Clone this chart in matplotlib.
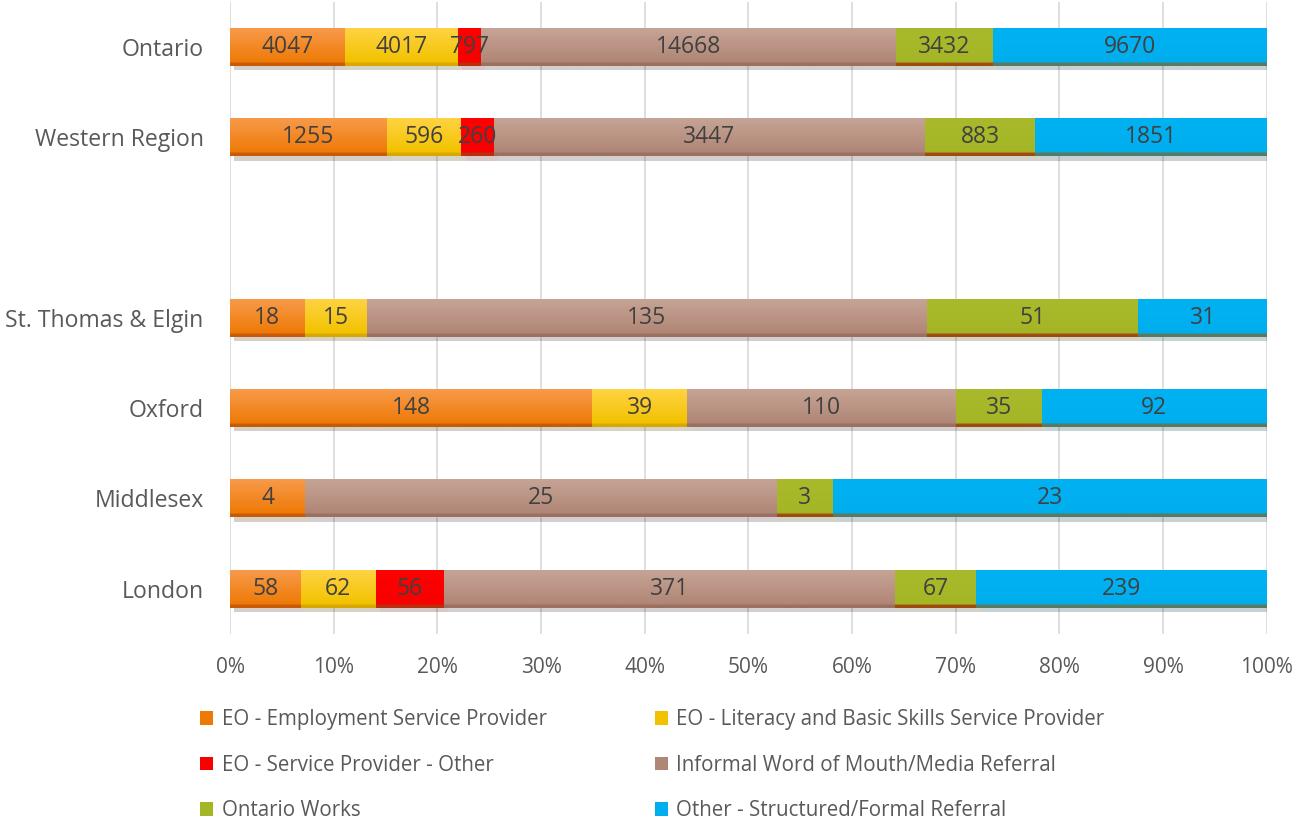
import numpy as np
import matplotlib.pyplot as plt
from matplotlib.colors import LinearSegmentedColormap
from matplotlib.patches import Patch
import matplotlib.patheffects as pe

plt.rcParams['font.family'] = ['Open Sans', 'DejaVu Sans']

# categories bottom -> top (blank row is the gap between regions and areas)
regions = ['London', 'Middlesex', 'Oxford', 'St. Thomas & Elgin', '', 'Western Region', 'Ontario']

series_names = ['EO - Employment Service Provider',
                'EO - Literacy and Basic Skills Service Provider',
                'EO - Service Provider - Other',
                'Informal Word of Mouth/Media Referral',
                'Ontario Works',
                'Other - Structured/Formal Referral']

emp_provider = [58, 4, 148, 18, 0, 1255, 4047]
literacy = [62, 0, 39, 15, 0, 596, 4017]
sp_other = [56, 0, 0, 0, 0, 260, 797]
word_of_mouth = [371, 25, 110, 135, 0, 3447, 14668]
ontario_works = [67, 3, 35, 51, 0, 883, 3432]
other_formal = [239, 23, 92, 31, 0, 1851, 9670]

# (top colour, bottom colour, bottom edge strip) for each series
grads = [('#F89A4A', '#EE7A06', '#C85A08'),
         ('#FFD342', '#F2C200', '#D8A800'),
         ('#FF0000', '#F80000', '#B83010'),
         ('#C6A495', '#B08676', '#9C7060'),
         ('#A9B92C', '#A4B625', '#A04A10'),
         ('#00B2F2', '#00AEEE', '#5A7A60')]

data = np.array([emp_provider, literacy, sp_other, word_of_mouth, ontario_works, other_formal], dtype=float)
totals = data.sum(axis=0)
totals[totals == 0] = 1
shares = data / totals * 100

fig = plt.figure(figsize=(12.96, 8.22), dpi=100)
ax = fig.add_axes([0.1775, 0.229, 0.8, 0.7685])

y = np.arange(len(regions))
left = np.zeros(len(regions))
grad = np.linspace(0, 1, 100).reshape(-1, 1)
for i, name in enumerate(series_names):
    bars = ax.barh(y, shares[i], left=left, height=0.42, color=grads[i][1], label=name,
                   edgecolor='none', zorder=3,
                   path_effects=[pe.SimplePatchShadow(offset=(3, -3), alpha=0.22, rho=0.3), pe.Normal()])
    cmap = LinearSegmentedColormap.from_list('g%d' % i, [(0, grads[i][0]), (0.9, grads[i][1]),
                                                         (0.93, grads[i][2]), (1, grads[i][2])])
    for b, v in zip(bars, data[i]):
        if v == 0:
            continue
        x0, y0, w, h = b.get_x(), b.get_y(), b.get_width(), b.get_height()
        im = ax.imshow(grad, extent=(x0, x0 + w, y0, y0 + h), cmap=cmap, aspect='auto',
                       origin='upper', zorder=4, interpolation='bilinear')
        im.set_clip_path(b)
        ax.text(x0 + w / 2, y0 + h / 2, '%d' % v, ha='center', va='center',
                fontsize=16.5, color='#404040', zorder=6)
    left += shares[i]

ax.set_xlim(0, 100)
ax.set_ylim(-0.5, len(regions) - 0.5)
ax.set_yticks(y)
ax.set_yticklabels(regions, fontsize=16.6, color='#595959')
ax.set_xticks(np.arange(0, 101, 10))
ax.set_xticklabels(['%d%%' % t for t in range(0, 101, 10)], fontsize=15, color='#595959')
ax.tick_params(length=0)
ax.tick_params(axis='x', pad=17)
ax.tick_params(axis='y', pad=19)
ax.grid(axis='x', color='#D9D9D9', linewidth=1.2, zorder=0)
for s in ax.spines.values():
    s.set_visible(False)

# legend fills row by row in the reference
order = [0, 2, 4, 1, 3, 5]
handles = [Patch(facecolor=grads[i][1], label=series_names[i]) for i in order]
fig.legend(handles=handles, loc='upper left', bbox_to_anchor=(0.140, 0.160), ncol=2,
           frameon=False, fontsize=14.8, labelcolor='#595959', handlelength=0.65, handleheight=0.65,
           handletextpad=0.4, columnspacing=5.27, labelspacing=1.2)

fig.savefig('out.png', dpi=100)
